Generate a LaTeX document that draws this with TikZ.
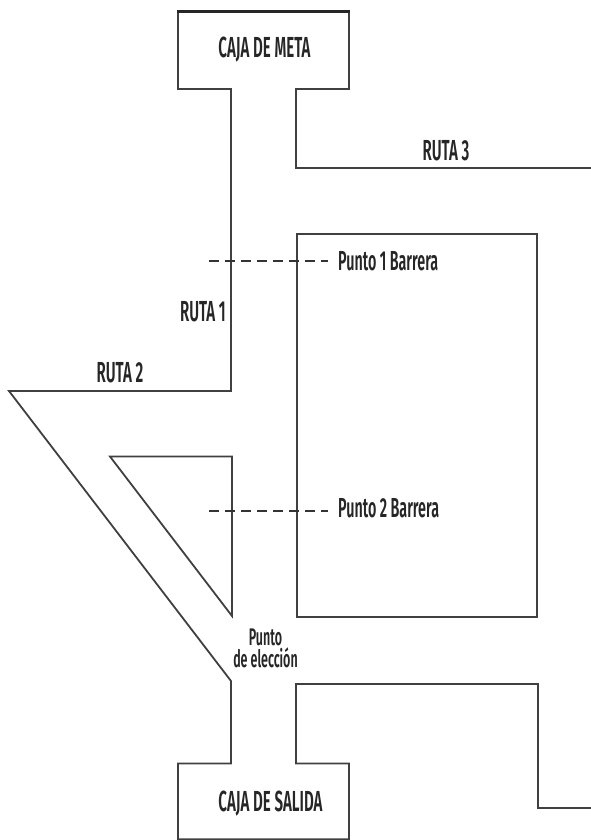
\documentclass[tikz,border=0pt]{standalone}
\usepackage{fontspec}
\setmainfont[FakeStretch=0.52]{Fira Sans SemiBold}
\tikzset{
 wall/.style={draw=black!75,line width=1.8pt,line join=miter},
 barrier/.style={draw=black!80,line width=1.2pt,dash pattern=on 10pt off 6pt},
 lab/.style={inner sep=0pt,font=\fontsize{29}{31}\selectfont,text=black!85,align=center},
 lablow/.style={inner sep=0pt,font=\fontsize{27.5}{30}\selectfont,text=black!85,align=center}
}
\begin{document}
\begin{tikzpicture}[x=1pt,y=-1pt]
\useasboundingbox (0,0) rectangle (591,840);
\coordinate (tl) at (178,12);
\coordinate (tr) at (349,12);
\coordinate (r3e) at (591,168);
\coordinate (tip) at (9,391);
\coordinate (cb) at (231,681);
\draw[wall] (178,12) -- (178,89) -- (231,89) -- (231,391) -- (tip) -- (cb) -- (231,763.5) -- (178,763.5) -- (178,839.2) -- (349,839.2) -- (349,763.5) -- (296,763.5) -- (296,684) -- (538,684) -- (538,808) -- (591,808);
\draw[wall] (349,12) -- (349,89) -- (296,89) -- (296,168) -- (r3e);
\draw[black!85,line width=3pt] (177.1,12) -- (349.9,12);
\draw[wall] (297,234) rectangle (537,617);
\draw[wall] (110,456.5) -- (232,456.5) -- (232,616) -- cycle;
\node[lab] (meta) at (264.5,50) {CAJA DE META};
\node[lab] (ruta3) at (446,151) {RUTA 3};
\node[lab] (ruta1) at (203,312) {RUTA 1};
\node[lab] (ruta2) at (120,373) {RUTA 2};
\node[lablow,anchor=west] (p1) at (338,261) {Punto 1 Barrera};
\node[lablow,anchor=west] (p2) at (338,508) {Punto 2 Barrera};
\node[lablow,font=\fontsize{24}{22}\selectfont] (pe) at (265.5,648) {Punto\\de elección};
\node[lab] (salida) at (270.5,804) {CAJA DE SALIDA};
\coordinate (d1) at (209,261);
\coordinate (d2) at (209,511);
\coordinate (e1) at (328,261);
\coordinate (e2) at (328,511);
\draw[barrier] (d1) -- (e1);
\draw[barrier] (d2) -- (e2);
\end{tikzpicture}
\end{document}
